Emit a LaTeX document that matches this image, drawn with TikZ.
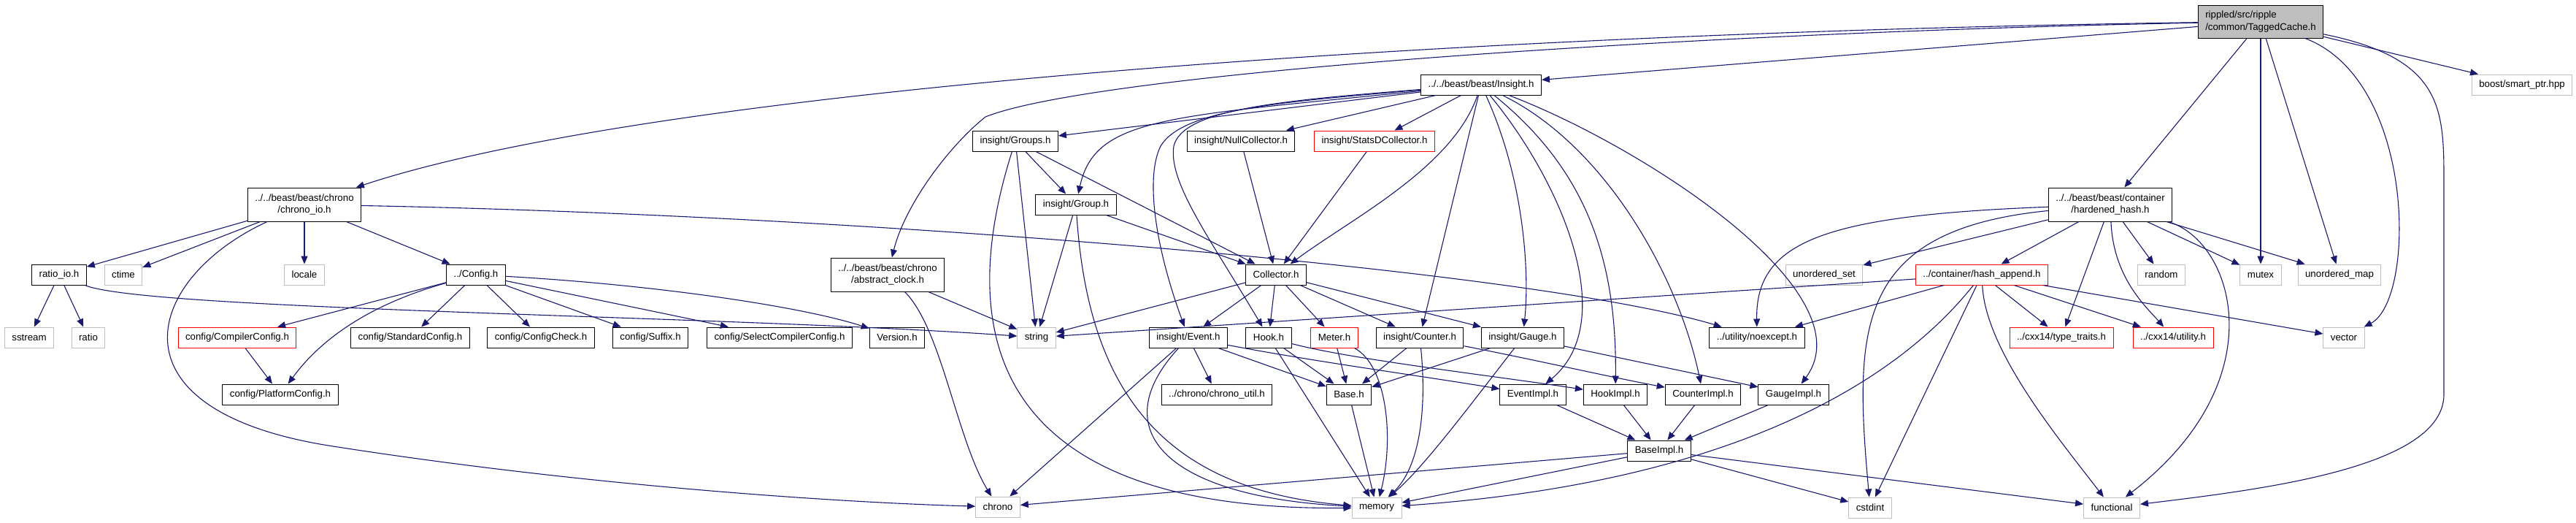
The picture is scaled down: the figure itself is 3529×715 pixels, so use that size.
\documentclass[tikz,border=0pt]{standalone}
\usepackage{fontspec}
\setmainfont{Liberation Sans}
\usepackage{tikz}
\usetikzlibrary{arrows.meta,positioning}
\definecolor{edgeblue}{HTML}{191970}
\definecolor{greyline}{HTML}{BFBFBF}
\tikzset{
    docfile/.style={draw=black, fill=white, line width=1pt, minimum height=28pt,
        inner xsep=10pt, inner ysep=0pt, align=center,
        font=\fontsize{13.3}{16.7}\selectfont},
    twoline/.style={minimum height=46pt},
    sysfile/.style={docfile, draw=greyline},
    cutfile/.style={docfile, draw=red},
    dep/.style={draw=edgeblue, line width=1.1pt, -{Triangle[length=11pt,width=9pt]}}
}

\begin{document}
\begin{tikzpicture}[x=1pt, y=-1pt]
        \useasboundingbox (0,0) rectangle (3529,715);
        \node[docfile, fill=greyline, minimum height=45pt, align=left] (tagged) at (3097,29.5) {rippled/src/ripple\\/common/TaggedCache.h};
        \node[docfile] (insight) at (2029,116) {../../beast/beast/Insight.h};
        \node[sysfile] (smartptr) at (3455,116) {boost/smart\_ptr.hpp};
        \node[docfile] (groups) at (1391,193) {insight/Groups.h};
        \node[docfile] (nullcol) at (1700,193) {insight/NullCollector.h};
        \node[cutfile] (statsd) at (1883,193) {insight/StatsDCollector.h};
        \node[docfile, twoline] (chronoio) at (417,280) {../../beast/beast/chrono\\/chrono\_io.h};
        \node[docfile, twoline] (hardened) at (2891,280) {../../beast/beast/container\\/hardened\_hash.h};
        \node[docfile] (group) at (1474,280) {insight/Group.h};
        \node[docfile] (collector) at (1748,376) {Collector.h};
        \node[docfile] (ratioio) at (81,376) {ratio\_io.h};
        \node[sysfile] (ctime) at (169,376) {ctime};
        \node[sysfile] (locale) at (417,376) {locale};
        \node[docfile] (config) at (652,376) {../Config.h};
        \node[docfile, twoline] (absclock) at (1216,376) {../../beast/beast/chrono\\/abstract\_clock.h};
        \node[sysfile] (uset) at (2499,376) {unordered\_set};
        \node[cutfile] (hashappend) at (2715,376) {../container/hash\_append.h};
        \node[sysfile] (random) at (2961,376) {random};
        \node[sysfile] (mutex) at (3097,376) {mutex};
        \node[sysfile] (umap) at (3205,376) {unordered\_map};
        \node[sysfile] (sstream) at (40,462) {sstream};
        \node[sysfile] (ratio) at (121,462) {ratio};
        \node[cutfile] (compilercfg) at (325,462) {config/CompilerConfig.h};
        \node[docfile] (standardcfg) at (562,462) {config/StandardConfig.h};
        \node[docfile] (configcheck) at (741,462) {config/ConfigCheck.h};
        \node[docfile] (suffix) at (891,462) {config/Suffix.h};
        \node[docfile] (selectcfg) at (1068,462) {config/SelectCompilerConfig.h};
        \node[docfile] (version) at (1229,462) {Version.h};
        \node[sysfile] (string) at (1420,462) {string};
        \node[docfile] (event) at (1628,462) {insight/Event.h};
        \node[docfile] (hook) at (1738,462) {Hook.h};
        \node[cutfile] (meter) at (1828,462) {Meter.h};
        \node[docfile] (counter) at (1945,462) {insight/Counter.h};
        \node[docfile] (gauge) at (2086,462) {insight/Gauge.h};
        \node[docfile] (noexcept) at (2407,462) {../utility/noexcept.h};
        \node[cutfile] (typetraits) at (2824,462) {../cxx14/type\_traits.h};
        \node[cutfile] (utility) at (2977,462) {../cxx14/utility.h};
        \node[sysfile] (vector) at (3211,462) {vector};
        \node[docfile] (platformcfg) at (384,540) {config/PlatformConfig.h};
        \node[docfile] (chronoutil) at (1667,540) {../chrono/chrono\_util.h};
        \node[docfile] (base) at (1848,540) {Base.h};
        \node[docfile] (eventimpl) at (2100,540) {EventImpl.h};
        \node[docfile] (hookimpl) at (2213,540) {HookImpl.h};
        \node[docfile] (counterimpl) at (2333,540) {CounterImpl.h};
        \node[docfile] (gaugeimpl) at (2457,540) {GaugeImpl.h};
        \node[docfile] (baseimpl) at (2273,617) {BaseImpl.h};
        \node[sysfile] (chrono) at (1367,694) {chrono};
        \node[sysfile] (memory) at (1886,695) {memory};
        \node[sysfile] (cstdint) at (2562,695) {cstdint};
        \node[sysfile] (functional) at (2893,695) {functional};

        % TaggedCache.h
        \draw[dep] (tagged) -- (insight);
        \draw[dep] (tagged) .. controls (2000,45) and (900,120) .. (chronoio);
        \draw[dep] (tagged) .. controls (2300,45) and (1500,100) .. (1350,160)
            .. controls (1300,200) and (1240,280) .. (absclock);
        \draw[dep] (tagged) -- (hardened);
        \draw[dep] (tagged) -- (mutex);
        \draw[dep] (tagged) -- (umap);
        \draw[dep] (tagged) .. controls (3310,110) and (3310,410) .. (vector);
        \draw[dep] (tagged) .. controls (3348,80) and (3348,150) .. (3348,250) -- (3348,540)
            .. controls (3348,640) and (3100,670) .. (functional);
        \draw[dep] (tagged) -- (smartptr);

        % Insight.h
        \draw[dep] (insight) -- (groups);
        \draw[dep] (insight) .. controls (1600,160) and (1500,160) .. (group);
        \draw[dep] (insight) .. controls (1750,140) and (1620,150) .. (1590,200)
            .. controls (1570,240) and (1580,330) .. (event);
        \draw[dep] (insight) .. controls (1750,138) and (1620,150) .. (1608,200)
            .. controls (1600,250) and (1660,330) .. (hook);
        \draw[dep] (insight) -- (nullcol);
        \draw[dep] (insight) -- (statsd);
        \draw[dep] (insight) .. controls (1990,230) and (1850,300) .. (collector);
        \draw[dep] (insight) -- (counter);
        \draw[dep] (insight) .. controls (2090,250) and (2095,380) .. (gauge);
        \draw[dep] (insight) .. controls (2140,250) and (2220,440) .. (eventimpl);
        \draw[dep] (insight) .. controls (2170,230) and (2215,350) .. (hookimpl);
        \draw[dep] (insight) .. controls (2200,200) and (2300,380) .. (counterimpl);
        \draw[dep] (insight) .. controls (2250,200) and (2560,400) .. (gaugeimpl);

        % chrono_io.h
        \draw[dep] (chronoio) -- (ratioio);
        \draw[dep] (chronoio) -- (ctime);
        \draw[dep] (chronoio) -- (locale);
        \draw[dep] (chronoio) -- (config);
        \draw[dep] (chronoio) .. controls (200,380) and (140,560) .. (450,610)
            .. controls (800,665) and (1150,688) .. (chrono);
        \draw[dep] (chronoio) .. controls (1200,295) and (2100,370) .. (noexcept);
        \draw[dep] (ratioio) -- (sstream);
        \draw[dep] (ratioio) -- (ratio);
        \draw[dep] (ratioio) .. controls (200,425) and (1000,432) .. (string);

        % Config.h
        \draw[dep] (config) -- (compilercfg);
        \draw[dep] (config) .. controls (530,410) and (450,450) .. (platformcfg);
        \draw[dep] (config) -- (standardcfg);
        \draw[dep] (config) -- (configcheck);
        \draw[dep] (config) -- (suffix);
        \draw[dep] (config) -- (selectcfg);
        \draw[dep] (config) .. controls (900,390) and (1100,420) .. (version);
        \draw[dep] (compilercfg) -- (platformcfg);

        \draw[dep] (absclock) -- (string);
        \draw[dep] (absclock) .. controls (1290,450) and (1310,600) .. (chrono);

        % insight headers
        \draw[dep] (groups) -- (group);
        \draw[dep] (groups) -- (collector);
        \draw[dep] (groups) -- (string);
        \draw[dep] (groups) .. controls (1300,480) and (1380,700) .. (memory);
        \draw[dep] (group) -- (collector);
        \draw[dep] (group) -- (string);
        \draw[dep] (group) .. controls (1490,520) and (1580,670) .. (memory);
        \draw[dep] (nullcol) -- (collector);
        \draw[dep] (statsd) -- (collector);
        \draw[dep] (collector) -- (string);
        \draw[dep] (collector) -- (event);
        \draw[dep] (collector) -- (hook);
        \draw[dep] (collector) -- (meter);
        \draw[dep] (collector) -- (counter);
        \draw[dep] (collector) -- (gauge);
        \draw[dep] (event) -- (chronoutil);
        \draw[dep] (event) -- (chrono);
        \draw[dep] (event) -- (base);
        \draw[dep] (event) .. controls (1510,590) and (1600,680) .. (memory);
        \draw[dep] (event) .. controls (1800,495) and (1950,515) .. (eventimpl);
        \draw[dep] (hook) -- (base);
        \draw[dep] (hook) -- (memory);
        \draw[dep] (hook) .. controls (1850,492) and (2050,515) .. (hookimpl);
        \draw[dep] (meter) -- (base);
        \draw[dep] (meter) .. controls (1900,500) and (1910,600) .. (memory);
        \draw[dep] (counter) -- (base);
        \draw[dep] (counter) .. controls (1955,560) and (1945,640) .. (memory);
        \draw[dep] (counter) .. controls (2100,492) and (2200,515) .. (counterimpl);
        \draw[dep] (gauge) -- (base);
        \draw[dep] (gauge) .. controls (2010,560) and (1950,640) .. (memory);
        \draw[dep] (gauge) -- (gaugeimpl);
        \draw[dep] (base) -- (memory);
        \foreach \impl in {eventimpl, hookimpl, counterimpl, gaugeimpl} {
            \draw[dep] (\impl) -- (baseimpl);
        }
        \draw[dep] (baseimpl) -- (chrono);
        \draw[dep] (baseimpl) -- (memory);
        \draw[dep] (baseimpl) -- (cstdint);
        \draw[dep] (baseimpl) -- (functional);

        % hardened_hash.h
        \draw[dep] (hardened) .. controls (2500,295) and (2405,330) .. (noexcept);
        \draw[dep] (hardened) -- (uset);
        \draw[dep] (hardened) .. controls (2540,315) and (2540,450) .. (cstdint);
        \draw[dep] (hardened) -- (hashappend);
        \draw[dep] (hardened) -- (typetraits);
        \draw[dep] (hardened) .. controls (2895,380) and (2940,420) .. (utility);
        \draw[dep] (hardened) -- (random);
        \draw[dep] (hardened) .. controls (3060,330) and (3120,520) .. (functional);
        \draw[dep] (hardened) -- (mutex);
        \draw[dep] (hardened) -- (umap);
        \draw[dep] (hashappend) -- (noexcept);
        \draw[dep] (hashappend) -- (string);
        \draw[dep] (hashappend) .. controls (2600,520) and (2380,660) .. (memory);
        \draw[dep] (hashappend) -- (cstdint);
        \draw[dep] (hashappend) .. controls (2720,480) and (2820,600) .. (functional);
        \draw[dep] (hashappend) -- (typetraits);
        \draw[dep] (hashappend) -- (utility);
        \draw[dep] (hashappend) -- (vector);
    \end{tikzpicture}
\end{document}
